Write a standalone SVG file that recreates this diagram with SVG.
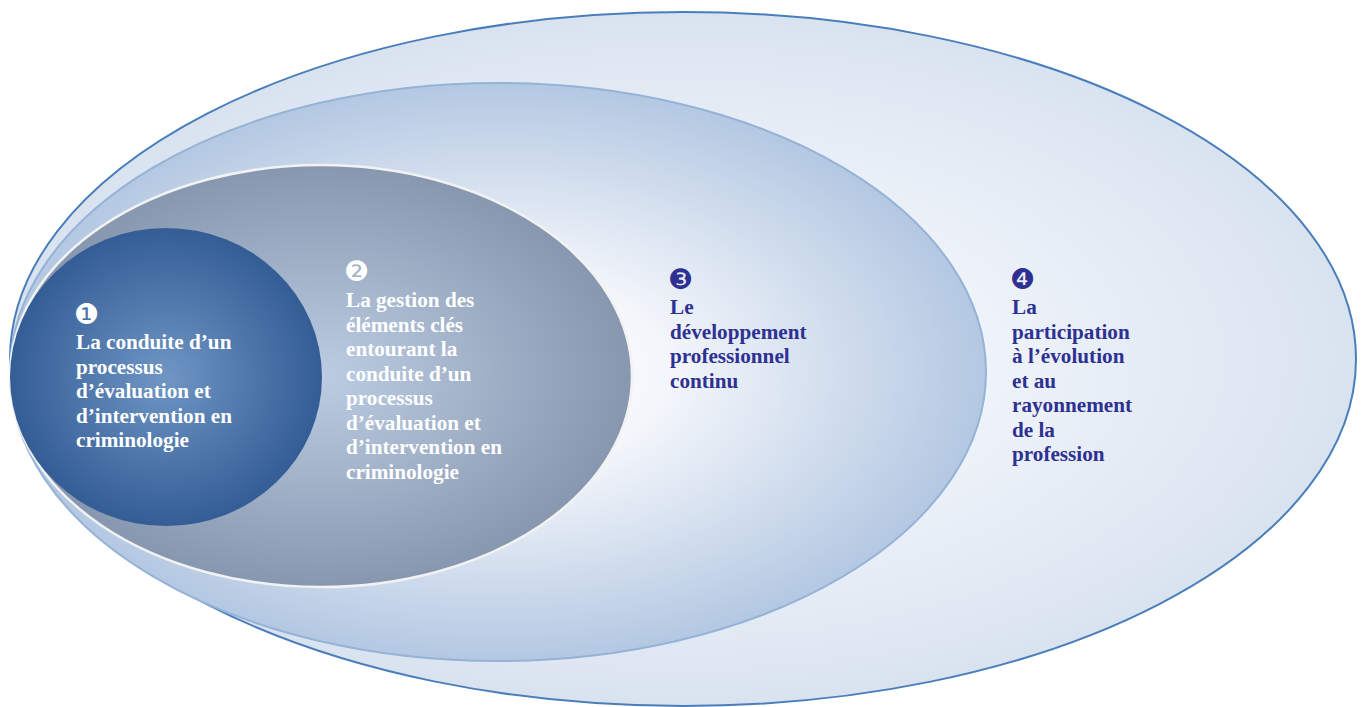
<svg xmlns="http://www.w3.org/2000/svg" width="1361" height="707" viewBox="0 0 1361 707">
<defs>
<radialGradient id="g4" cx="0.5" cy="0.5" r="0.5">
<stop offset="0" stop-color="#ffffff"/>
<stop offset="0.5" stop-color="#edf2f9"/>
<stop offset="1" stop-color="#d9e3f0"/>
</radialGradient>
<radialGradient id="g3" cx="0.5" cy="0.5" r="0.5">
<stop offset="0" stop-color="#ffffff"/>
<stop offset="0.35" stop-color="#f3f6fb"/>
<stop offset="1" stop-color="#b4c8e2"/>
</radialGradient>
<radialGradient id="g2" cx="0.5" cy="0.5" r="0.5">
<stop offset="0" stop-color="#bccde3"/>
<stop offset="1" stop-color="#8797af"/>
</radialGradient>
<radialGradient id="g1" cx="0.5" cy="0.5" r="0.5">
<stop offset="0" stop-color="#6f96c4"/>
<stop offset="1" stop-color="#345d96"/>
</radialGradient>
</defs>
<style>
.t{font-family:"Liberation Serif","Times New Roman",serif;font-weight:bold;font-size:21.2px}
.w{fill:#ffffff}
.b{fill:#2e3192}
.n{font-family:"DejaVu Sans",sans-serif;font-size:28px}
</style>
<g id="node4">
<ellipse cx="683" cy="359" rx="673" ry="347" fill="url(#g4)" stroke="#4a7ebb" stroke-width="2"/>
</g>
<g id="node3">
<ellipse cx="498" cy="372" rx="488" ry="289" fill="url(#g3)" stroke="#95b3d7" stroke-width="2"/>
</g>
<g id="node2">
<ellipse cx="321" cy="376" rx="311" ry="211" fill="url(#g2)" stroke="#f2f2f2" stroke-width="2.5"/>
</g>
<g id="node1">
<ellipse cx="166" cy="377" rx="156" ry="149" fill="url(#g1)"/>
</g>
<g id="connectors"></g>
<g id="labels">
<text class="n w" x="74" y="324">❶</text>
<text class="t w" x="76" y="349">La conduite d’un</text>
<text class="t w" x="76" y="373.5">processus</text>
<text class="t w" x="76" y="398">d’évaluation et</text>
<text class="t w" x="76" y="422.5">d’intervention en</text>
<text class="t w" x="76" y="447">criminologie</text>

<text class="n w" x="344" y="281">❷</text>
<text class="t w" x="346" y="307">La gestion des</text>
<text class="t w" x="346" y="331.5">éléments clés</text>
<text class="t w" x="346" y="356">entourant la</text>
<text class="t w" x="346" y="380.5">conduite d’un</text>
<text class="t w" x="346" y="405">processus</text>
<text class="t w" x="346" y="429.5">d’évaluation et</text>
<text class="t w" x="346" y="454">d’intervention en</text>
<text class="t w" x="346" y="478.5">criminologie</text>

<text class="n b" x="668" y="289">❸</text>
<text class="t b" x="670" y="314">Le</text>
<text class="t b" x="670" y="338.5">développement</text>
<text class="t b" x="670" y="363">professionnel</text>
<text class="t b" x="670" y="387.5">continu</text>

<text class="n b" x="1010" y="289">❹</text>
<text class="t b" x="1012" y="314">La</text>
<text class="t b" x="1012" y="338.5">participation</text>
<text class="t b" x="1012" y="363">à l’évolution</text>
<text class="t b" x="1012" y="387.5">et au</text>
<text class="t b" x="1012" y="412">rayonnement</text>
<text class="t b" x="1012" y="436.5">de la</text>
<text class="t b" x="1012" y="461">profession</text>
</g>
</svg>
